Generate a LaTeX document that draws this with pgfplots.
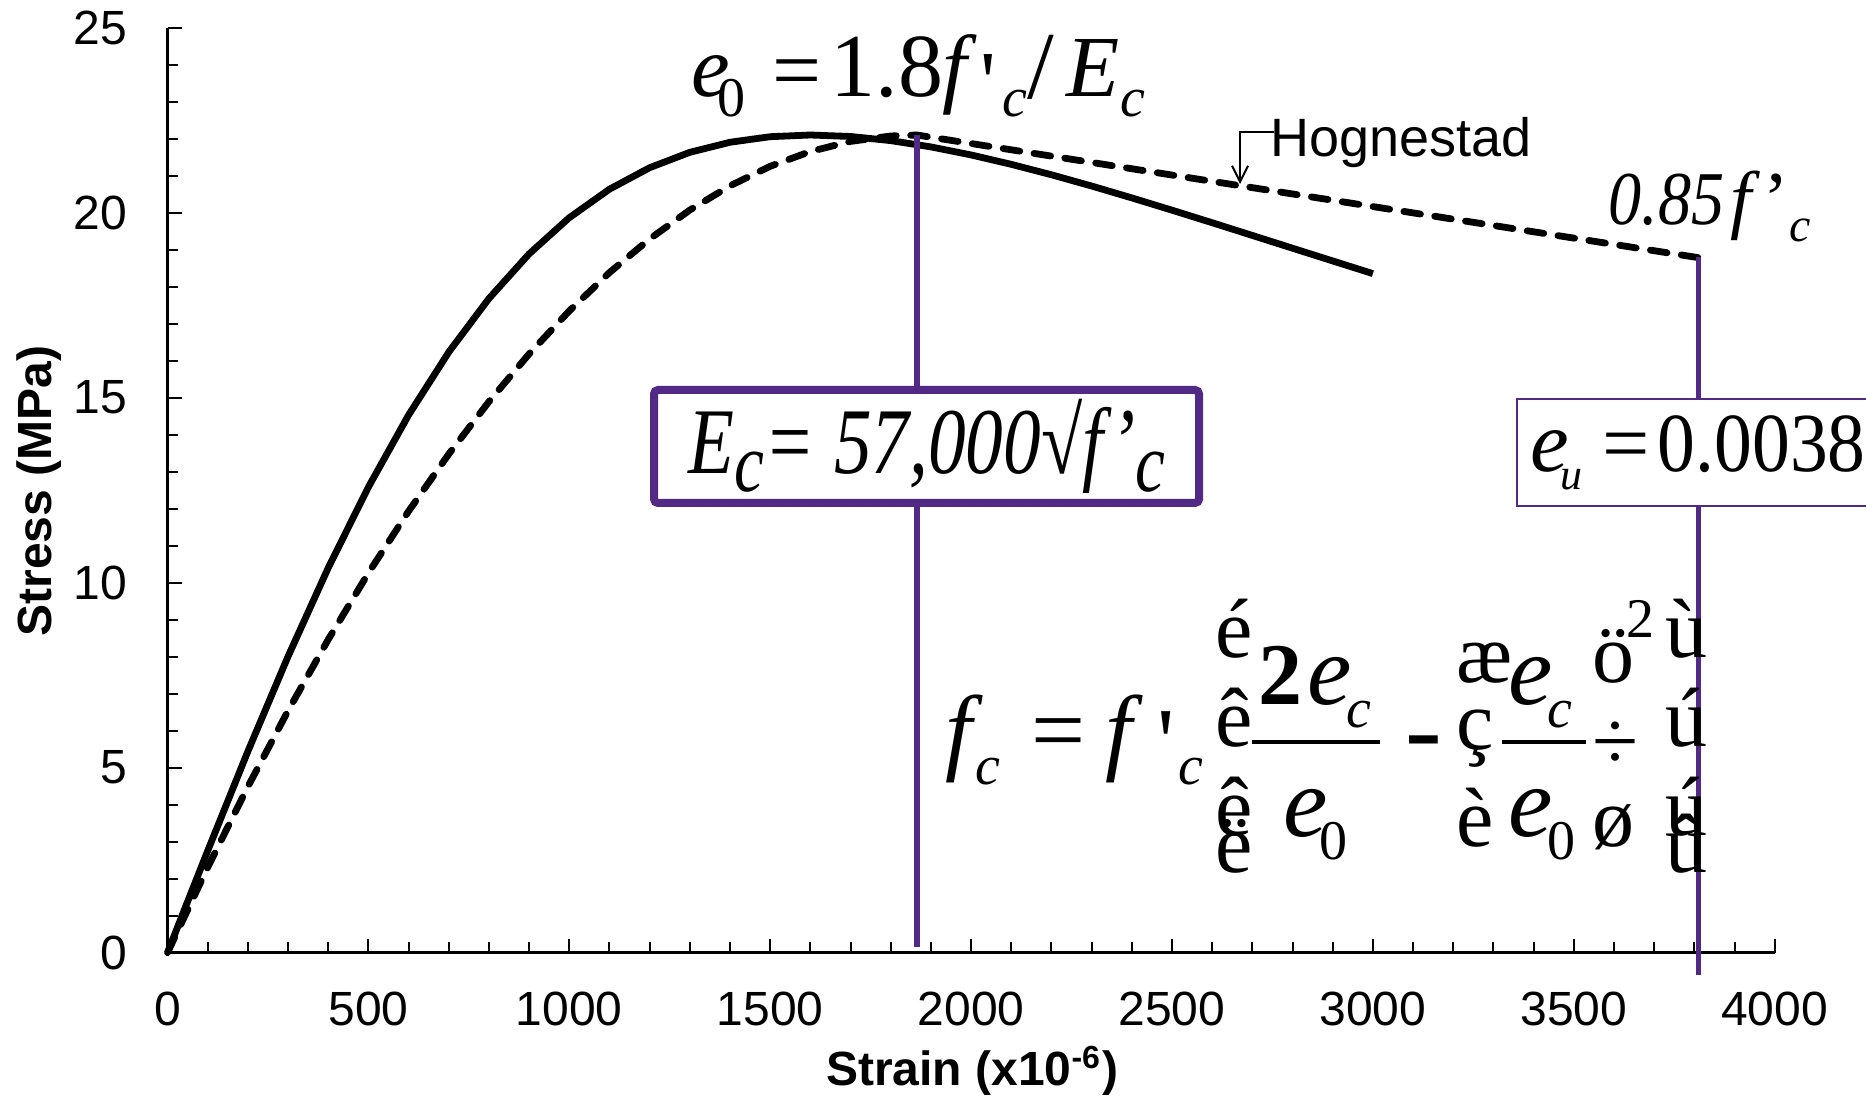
\documentclass[border=0pt]{standalone}
\usepackage{pgfplots}
\pgfplotsset{compat=1.18}
\usepackage{fontspec}
\setmainfont{Liberation Sans}
\newfontfamily\tms{Liberation Serif}
\usetikzlibrary{arrows.meta}
\definecolor{pur}{RGB}{82,41,132}
\newcommand\g[4]{\node[anchor=base west,inner sep=0pt] at (#1,#2) {\fontsize{#3}{#3}\selectfont\tms #4};}
\begin{document}
\begin{tikzpicture}
\useasboundingbox (0,0) rectangle (466.5pt,-274.5pt);
\begin{axis}[
 at={(41.875pt,-238.175pt)}, anchor=south west,
 scale only axis, width=401.8pt, height=231.25pt,
 xmin=0,xmax=4000,ymin=0,ymax=25,
 axis lines=left, axis line style={-, line width=0.6pt, black},
 tick align=inside,
 xtick={0,500,...,4000}, ytick={0,5,...,25},
 minor x tick num=4, minor y tick num=4,
 major tick length=3.5pt, minor tick length=2.6pt,
 tick style={black, line width=0.5pt},
 tick label style={font=\fontsize{12}{12}\selectfont},
 /pgf/number format/assume math mode=true,
 /pgf/number format/1000 sep={},
 scaled ticks=false,
 yticklabel style={xshift=-6.6pt},
 xticklabel style={yshift=-6.3pt},
 xlabel={Strain (x10\textsuperscript{-6})},
 ylabel={Stress (MPa)},
 label style={font=\fontsize{12}{12}\selectfont\bfseries},
 xlabel style={at={(axis description cs:0.5006,-0.144)}, anchor=base},
 ylabel style={at={(axis description cs:-0.072,0.499)}, anchor=base},
 clip=false,
]
% Todeschini-type curve (solid)
\addplot[black, line width=1.7pt, line join=round] coordinates {
(0,0) (50,1.380) (100,2.752) (200,5.440) (300,8.006) (400,10.400) (500,12.584)
(600,14.531) (700,16.231) (800,17.680) (900,18.887) (1000,19.865) (1100,20.635)
(1200,21.216) (1300,21.632) (1400,21.904) (1500,22.054) (1600,22.100) (1700,22.060)
(1800,21.948) (1900,21.778) (2000,21.561) (2100,21.307) (2200,21.025) (2300,20.721)
(2400,20.400) (2500,20.068) (2600,19.729) (2700,19.385) (2800,19.040) (2900,18.696)
(3000,18.353)};
% Hognestad (dashed)
\addplot[black, line width=1.7pt, line cap=round, line join=round, dash pattern=on 4.2pt off 3.6pt] coordinates {
(0,0) (100,2.306) (200,4.486) (300,6.538) (400,8.463) (500,10.261) (600,11.932)
(700,13.476) (800,14.893) (900,16.183) (1000,17.346) (1100,18.382) (1200,19.290)
(1300,20.072) (1400,20.726) (1500,21.254) (1600,21.654) (1700,21.927) (1800,22.073)
(1865,22.100) (3810,18.785)};
\addplot[pur, line width=1.4pt] coordinates {(1865,0.15) (1865,22.1)};
\addplot[pur, line width=1.4pt] coordinates {(3810,-0.6) (3810,18.8)};
\end{axis}
\begin{scope}[x=0.25pt,y=-0.25pt]
% top formula
\g{691}{97}{21.75}{\itshape e}
\g{717}{117}{14}{0}
\g{772}{100}{21.75}{=}
\g{830}{97}{22.5}{1.8}
\g{942}{97}{22}{\itshape f}
\g{980}{112}{21.75}{\textquotesingle}
\g{1002}{117}{14}{\itshape c}
\g{1027}{99}{24}{/}
\g{1066}{97}{21.75}{\itshape E}
\g{1120}{117}{14}{\itshape c}
% Hognestad label
\node[anchor=base west, inner sep=0pt] at (1270,157) {\fontsize{13.5}{13.5}\selectfont Hognestad};
\draw[line width=0.5pt, -{Straight Barb[length=4pt,width=4pt]}] (1274,132) -- (1240,132) -- (1240,184);
% 0.85 f'c
\g{1608}{225}{19}{\itshape\scalebox{0.87}[1]{0.85}}
\g{1730}{225}{19}{\itshape f}
\g{1763}{225}{19}{’}
\g{1789}{242}{12}{\itshape c}
% Ec box
\draw[pur, line width=2pt, fill=white, rounded corners=1pt] (654,390) rectangle (1199,503);
\node[anchor=base, inner sep=0pt] at (927,474) {\scalebox{0.8}[1]{\fontsize{23.5}{23.5}\selectfont\tms\itshape E\raisebox{-4.5pt}{\fontsize{21}{21}\selectfont c}= 57,000{\upshape √}f’\raisebox{-4.5pt}{\fontsize{21}{21}\selectfont c}}};
% eu box
\draw[pur, line width=0.6pt, fill=white] (1517,399) rectangle (1900,506);
\g{1530}{472}{21.75}{\itshape e}
\g{1560}{490}{11}{\itshape u}
\g{1602}{472}{21}{=}
\g{1657}{472}{21}{\scalebox{0.9}[1]{0.0038}}
% big formula
\g{945}{763}{24}{\itshape f}
\g{975}{785}{14}{\itshape c}
\g{1031}{763}{24}{=}
\g{1105}{763}{24}{\itshape f}
\g{1157}{775}{24}{\textquotesingle}
\g{1178}{785}{14}{\itshape c}
\g{1215}{658}{21}{é}
\g{1215}{747}{21}{ê}
\g{1215}{836}{21}{ê}
\g{1215}{873}{21}{ë}
\g{1258}{705}{22}{\bfseries 2}
\g{1307}{705}{25}{\itshape e}
\g{1346}{728}{14}{\itshape c}
\draw[line width=0.8pt] (1252,742)--(1380,742);
\g{1283}{837}{25}{\itshape e}
\g{1319}{860}{14}{0}
\g{1405}{763}{24}{\bfseries\scalebox{1.15}[1]{-}}
\g{1456}{683}{21}{æ}
\g{1456}{750}{21}{ç}
\g{1456}{847}{21}{è}
\g{1508}{705}{25}{\itshape e}
\g{1547}{728}{14}{\itshape c}
\draw[line width=0.8pt] (1502,742)--(1586,742);
\g{1508}{837}{25}{\itshape e}
\g{1547}{860}{14}{0}
\g{1592}{683}{21}{ö}
\g{1592}{770}{21}{÷}
\g{1592}{847}{21}{ø}
\g{1626}{638}{14}{2}
\g{1665}{658}{21}{ù}
\g{1665}{747}{21}{ú}
\g{1665}{836}{21}{ú}
\g{1665}{873}{21}{û}
\end{scope}
\end{tikzpicture}
\end{document}
